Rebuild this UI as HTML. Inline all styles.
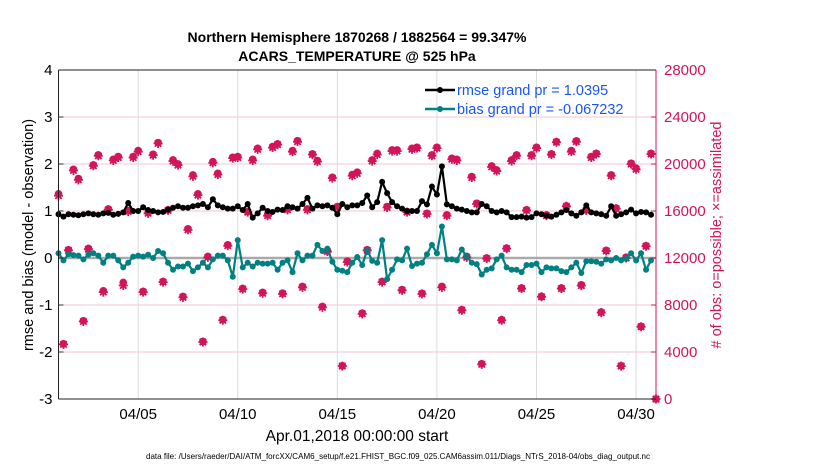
<!DOCTYPE html>
<html><head><meta charset="utf-8"><style>
body{margin:0;background:#fff;}
svg text{font-family:"Liberation Sans",sans-serif;}
</style></head><body>
<svg id="chart" width="830" height="470" xmlns="http://www.w3.org/2000/svg">
<rect width="830" height="470" fill="#fff"/>
<g id="grid"></g>
<g id="series"></g>
<g id="axes"></g>
<text x="357" y="42" font-size="14" font-weight="bold" text-anchor="middle">Northern Hemisphere 1870268 / 1882564 = 99.347%</text>
<text x="357" y="61" font-size="14" font-weight="bold" text-anchor="middle">ACARS_TEMPERATURE @ 525 hPa</text>
<text x="357" y="441" font-size="15.5" text-anchor="middle">Apr.01,2018 00:00:00 start</text>
<text x="146" y="459" font-size="8.5" textLength="504" lengthAdjust="spacingAndGlyphs">data file: /Users/raeder/DAI/ATM_forcXX/CAM6_setup/f.e21.FHIST_BGC.f09_025.CAM6assim.011/Diags_NTrS_2018-04/obs_diag_output.nc</text>
<text transform="translate(33,235) rotate(-90)" font-size="14.5" text-anchor="middle">rmse and bias (model - observation)</text>
<text transform="translate(721,235) rotate(-90)" font-size="14.5" text-anchor="middle" fill="#d4145a"># of obs: o=possible; ×=assimilated</text>
<g>
<line x1="425" y1="90" x2="455" y2="90" stroke="#000" stroke-width="2.5"/><circle cx="440" cy="90" r="3" fill="#000"/>
<text x="457" y="95" font-size="14.5" fill="#1a55ff">rmse grand pr = 1.0395</text>
<line x1="425" y1="109" x2="455" y2="109" stroke="#008080" stroke-width="2.5"/><circle cx="440" cy="109" r="3" fill="#008080"/>
<text x="457" y="114" font-size="14.5" fill="#1a55ff">bias grand pr = -0.067232</text>
</g>
</svg>
<script>
const rmse=[.93,.88,.93,.92,.91,.93,.95,.93,.92,.95,.96,.92,.94,.97,1.17,1.0,1.0,1.08,1.02,1.0,.97,.98,1.03,1.07,1.1,1.07,1.07,1.1,1.12,1.15,1.08,1.25,1.12,1.08,1.05,1.05,1.1,1.02,1.15,.86,.95,1.07,1.0,.98,1.03,1.02,1.1,1.08,1.05,1.15,1.28,1.05,1.12,1.1,1.12,1.07,.93,1.15,1.08,1.12,1.12,1.17,1.33,1.08,1.19,1.62,1.38,1.19,1.1,1.05,1.0,1.0,1.0,1.21,1.14,1.52,1.35,1.95,1.14,1.1,1.05,1.03,1.0,.97,.97,1.15,1.1,1.0,.97,1.0,.97,.87,.87,.88,.86,.87,.95,.93,.9,.88,.92,.97,1.02,.95,.9,.97,1.12,.97,.95,.93,.9,1.1,.9,.93,.97,1.03,.95,.98,.97,.92];
const bias=[.1,-.05,.08,.06,.05,-.03,.07,.1,.05,-.1,.05,.05,-.05,-.2,-.1,.03,.05,.03,.07,0,.15,.1,-.1,-.25,-.18,-.18,-.12,-.28,-.2,-.1,-.2,-.03,.05,.05,-.05,-.4,.38,-.2,-.1,-.18,-.1,-.12,-.12,-.1,-.25,-.1,-.05,-.3,.1,-.05,.05,.05,.28,.15,.2,-.08,-.25,-.27,-.3,-.1,.02,-.15,.17,-.06,-.1,.38,-.45,-.25,-.03,-.05,.2,-.17,-.12,-.1,.08,.28,.1,.67,-.03,-.03,-.05,.18,.03,-.1,-.13,-.35,-.25,-.22,-.03,.05,-.2,-.25,-.25,-.3,-.15,-.15,-.12,-.3,-.2,-.22,-.22,-.28,-.3,-.2,-.1,-.32,-.07,-.07,-.08,-.12,-.03,-.05,0,-.05,-.02,.1,-.05,.1,-.25,-.05];
const nobsPossible=[17460,4700,12700,19550,18760,6660,12810,19920,20770,9210,16180,20400,20630,9920,16040,20630,21140,9150,15870,20830,21820,10000,16100,20350,20010,8730,14480,19070,17460,4900,12130,20200,19210,6750,13120,20570,20630,9410,15950,20400,21340,9070,15670,21480,21710,9010,16180,21140,21990,9580,16180,20860,20290,7880,12610,18870,16380,2830,11730,19100,19300,7300,12700,20350,20900,10000,16380,21200,21200,9300,15950,21340,21420,9000,15800,20770,21420,9580,15670,20490,20400,7600,12130,18930,16660,3000,12000,19840,19500,6750,12840,20350,20770,9440,16100,20770,21420,8730,15670,20860,21900,9440,16440,21140,21960,9720,16100,20630,20900,7400,12640,19070,16240,2830,12070,20060,19640,6180,13040,20900,0];
const nobsAssim=[17300,4650,12650,19450,18650,6600,12750,19850,20700,9100,16100,20300,20550,9660,15950,20550,21050,9100,15800,20750,21750,9950,16050,20250,19900,8650,14400,18950,17350,4850,12050,20100,19100,6700,13050,20500,20550,9350,15900,20300,21250,9000,15600,21400,21650,8950,16100,21050,21900,9500,16100,20800,20200,7800,12550,18800,16300,2800,11650,19000,19200,7250,12650,20250,20800,9950,16300,21100,21100,9250,15900,21250,21350,8950,15750,20700,21350,9500,15600,20400,20300,7550,12050,18850,16600,2950,11950,19750,19400,6700,12800,20250,20700,9400,16050,20700,21350,8700,15600,20800,21850,9400,16400,21050,21900,9650,16050,20550,20850,7350,12600,19000,16200,2800,12000,20000,19550,6150,13000,20850,0];
const xTicks=[4,9,14,19,24,29];
const xTickLabels=["04/05","04/10","04/15","04/20","04/25","04/30"];
const yLeftTicks=[-3,-2,-1,0,1,2,3,4];
const yRightTicks=[0,4000,8000,12000,16000,20000,24000,28000];

const L=58.5,R=656,T=70,B=399;
const xs=d=>L+(d/30)*(R-L);
const yl=v=>B-(v+3)/7*(B-T);
const yr=v=>B-v/28000*(B-T);
const NS="http://www.w3.org/2000/svg";
function mk(tag,attrs,parent){const e=document.createElementNS(NS,tag);for(const k in attrs)e.setAttribute(k,attrs[k]);parent.appendChild(e);return e;}
const grid=document.getElementById('grid'),ser=document.getElementById('series'),ax=document.getElementById('axes');
const RED="#d4145a";
yLeftTicks.forEach(v=>{
  if(v>-3&&v<4){const g=mk('line',{x1:L,x2:R,y1:yl(v),y2:yl(v),stroke:'#f3c6d6','stroke-width':1},grid);
  
  }
  const t=mk('text',{x:L-6,y:yl(v)+5,'font-size':15,'text-anchor':'end'},ax);t.textContent=v;
  
  
  mk('line',{x1:L,x2:L+5,y1:yl(v),y2:yl(v),stroke:'#333'},ax);
});
xTicks.forEach((d,i)=>{
  const g=mk('line',{x1:xs(d),x2:xs(d),y1:T,y2:B,stroke:'#dcdcdc','stroke-width':1},grid);
  
  
  const t=mk('text',{x:xs(d),y:419,'font-size':15,'text-anchor':'middle'},ax);t.textContent=xTickLabels[i];
  
  
});
yRightTicks.forEach(v=>{
  const t=mk('text',{x:R+8,y:yr(v)+5,'font-size':15,fill:RED},ax);t.textContent=v;
  
  
  mk('line',{x1:R-5,x2:R,y1:yr(v),y2:yr(v),stroke:RED},ax);
});
const zl=mk('line',{x1:L,x2:R,y1:yl(0),y2:yl(0),stroke:'#aaa','stroke-width':2.5},grid);


nobsPossible.forEach((v,i)=>{
  const x=xs(i/4),y=yr(v);
  const c=mk('circle',{cx:x,cy:y,r:3.2,fill:RED,stroke:RED,'stroke-width':1.2},ser);
  
  
});
nobsAssim.forEach((v,i)=>{
  const x=xs(i/4),y=yr(v),s=4.5;
  const p=mk('path',{d:`M${x-s} ${y}H${x+s}M${x} ${y-s}V${y+s}M${x-3.2} ${y-3.2}L${x+3.2} ${y+3.2}M${x-3.2} ${y+3.2}L${x+3.2} ${y-3.2}`,stroke:RED,'stroke-width':1.8},ser);
  
  
});
function line(arr,col,name){
  const pts=arr.map((v,i)=>xs(i/4).toFixed(1)+','+yl(v).toFixed(1)).join(' ');
  const pl=mk('polyline',{points:pts,fill:'none',stroke:col,'stroke-width':2.2},ser);
  
  
  arr.forEach((v,i)=>{const c=mk('circle',{cx:xs(i/4),cy:yl(v),r:3,fill:col},ser);
    
    });
}
line(bias,'#008080','bias');
line(rmse,'#000','rmse');
mk('line',{x1:L,x2:L,y1:T,y2:B,stroke:'#222','stroke-width':1},ax);
mk('line',{x1:L,x2:R,y1:T,y2:T,stroke:'#222','stroke-width':1},ax);
mk('line',{x1:L,x2:R,y1:B,y2:B,stroke:'#222','stroke-width':1},ax);
mk('line',{x1:R,x2:R,y1:T,y2:B,stroke:RED,'stroke-width':1},ax);
</script>
</body></html>
